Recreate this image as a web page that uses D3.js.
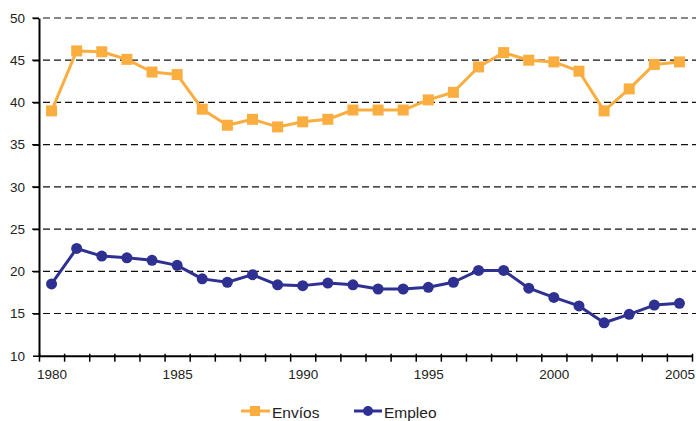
<!DOCTYPE html>
<html>
<head>
<meta charset="utf-8">
<script src="https://cdn.jsdelivr.net/npm/d3@7"></script>
<style>
  body { margin: 0; background: #fff; }
  svg { display: block; font-family: "Liberation Sans", Arial, sans-serif; }
  .axis text { font-size: 13.5px; fill: #222; }
  .legend text { font-size: 15.5px; fill: #222; }
</style>
</head>
<body>
<script>
// Data
//= ================================
var years = d3.range(1980, 2006);
var yearLabels = [1980, 1985, 1990, 1995, 2000, 2005];
var yTicks = [10, 15, 20, 25, 30, 35, 40, 45, 50];

var envios = [39.0, 46.1, 46.0, 45.1, 43.6, 43.3, 39.2, 37.3, 38.0, 37.1,
              37.7, 38.0, 39.1, 39.1, 39.1, 40.3, 41.2, 44.2, 45.9, 45.0,
              44.8, 43.7, 39.0, 41.6, 44.5, 44.8];
var empleo = [18.5, 22.7, 21.8, 21.6, 21.3, 20.7, 19.1, 18.7, 19.6, 18.4,
              18.3, 18.6, 18.4, 17.9, 17.9, 18.1, 18.7, 20.1, 20.1, 18.0,
              16.9, 15.9, 13.9, 14.9, 16.0, 16.2];

var orange = "#faae40";
var blue = "#2e3192";

// Chart setup
//= ================================
var svgWidth = 696;
var svgHeight = 421;
var plotLeft = 39, plotRight = 692, plotTop = 18, plotBottom = 355.7;

var svg = d3.select("body").append("svg")
    .attr("width", svgWidth)
    .attr("height", svgHeight);

// x: one slot per year, points in the middle of the slot
var xScale = d3.scaleLinear()
    .domain([years[0] - 0.5, years[years.length - 1] + 0.5])
    .range([plotLeft, plotRight]);

var yScale = d3.scaleLinear()
    .domain([10, 50])
    .range([plotBottom, plotTop]);

// gridlines
svg.append("g")
    .selectAll("line")
    .data(yTicks.filter(d => d > 10))
    .enter()
    .append("line")
    .attr("x1", plotLeft - 7)
    .attr("x2", svgWidth)
    .attr("y1", d => yScale(d))
    .attr("y2", d => yScale(d))
    .attr("stroke", "#111")
    .attr("stroke-width", 1.2)
    .attr("stroke-dasharray", "7,4");

// y axis
var yAxis = svg.append("g")
    .attr("class", "axis")
    .attr("transform", `translate(${plotLeft},0)`)
    .call(d3.axisLeft(yScale).tickValues(yTicks).tickSize(6).tickSizeOuter(0).tickPadding(8));
yAxis.select(".domain").attr("stroke", "#000").attr("stroke-width", 2);
yAxis.selectAll(".tick line").attr("stroke", "#000").attr("stroke-width", 1.5);

// x axis ticks at slot edges
var edges = d3.range(years[0] - 0.5, years[years.length - 1] + 1, 1);
var xAxis = svg.append("g")
    .attr("class", "axis")
    .attr("transform", `translate(0,${plotBottom})`)
    .call(d3.axisBottom(xScale).tickValues(edges).tickFormat("").tickSize(6).tickSizeOuter(0));
xAxis.select(".domain").attr("stroke", "#000").attr("stroke-width", 2);
xAxis.selectAll(".tick line").attr("stroke", "#000").attr("stroke-width", 1.5)
    .attr("y1", -2);

// x labels under the year points
svg.append("g")
    .attr("class", "axis")
    .attr("transform", `translate(0,${plotBottom})`)
    .call(d3.axisBottom(xScale).tickValues(yearLabels).tickFormat(d3.format("d")).tickSize(0).tickPadding(14))
    .call(g => g.select(".domain").remove());

// lines
var line = d3.line()
    .x((d, i) => xScale(years[i]))
    .y(d => yScale(d));

svg.append("path")
    .attr("d", line(envios))
    .attr("fill", "none")
    .attr("stroke", orange)
    .attr("stroke-width", 3)
    .attr("stroke-linejoin", "round");

svg.append("path")
    .attr("d", line(empleo))
    .attr("fill", "none")
    .attr("stroke", blue)
    .attr("stroke-width", 3)
    .attr("stroke-linejoin", "round");

var sq = 11;
svg.append("g")
    .selectAll("rect")
    .data(envios)
    .enter()
    .append("rect")
    .attr("x", (d, i) => xScale(years[i]) - sq / 2)
    .attr("y", d => yScale(d) - sq / 2)
    .attr("width", sq)
    .attr("height", sq)
    .attr("fill", orange);

svg.append("g")
    .selectAll("circle")
    .data(empleo)
    .enter()
    .append("circle")
    .attr("cx", (d, i) => xScale(years[i]))
    .attr("cy", d => yScale(d))
    .attr("r", 5.5)
    .attr("fill", blue);

// legend
var legend = svg.append("g").attr("class", "legend");
var ly = 411;

legend.append("line")
    .attr("x1", 241).attr("x2", 270).attr("y1", ly).attr("y2", ly)
    .attr("stroke", orange).attr("stroke-width", 3);
legend.append("rect")
    .attr("x", 250).attr("y", ly - 5).attr("width", 10).attr("height", 10)
    .attr("fill", orange);
legend.append("text")
    .attr("x", 272).attr("y", 417.5)
    .text("Envíos");

legend.append("line")
    .attr("x1", 354).attr("x2", 382).attr("y1", ly).attr("y2", ly)
    .attr("stroke", blue).attr("stroke-width", 3);
legend.append("circle")
    .attr("cx", 368).attr("cy", ly).attr("r", 5)
    .attr("fill", blue);
legend.append("text")
    .attr("x", 384).attr("y", 417.5)
    .text("Empleo");
</script>
</body>
</html>
